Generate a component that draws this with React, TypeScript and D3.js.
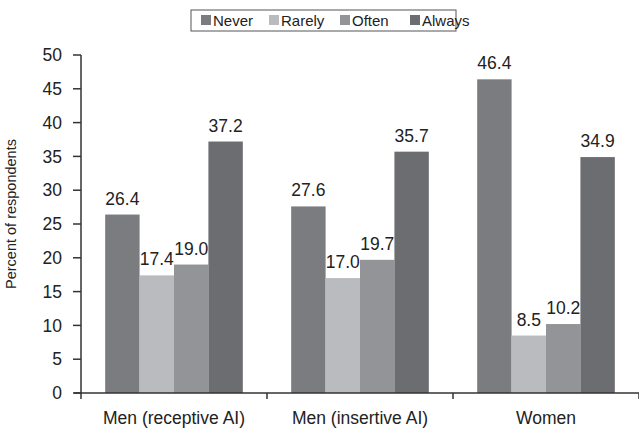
import React from "react";
import * as d3 from "d3";

const categories = ["Men (receptive AI)", "Men (insertive AI)", "Women"];
const seriesNames = ["Never", "Rarely", "Often", "Always"];
const neverValues = [26.4, 27.6, 46.4];
const rarelyValues = [17.4, 17.0, 8.5];
const oftenValues = [19.0, 19.7, 10.2];
const alwaysValues = [37.2, 35.7, 34.9];
const yTicks = [0, 5, 10, 15, 20, 25, 30, 35, 40, 45, 50];
const colors = ["#7b7c80", "#babbbf", "#939498", "#6c6d71"];

const W = 639;
const H = 428;
const FONT = "'Liberation Sans', Arial, Helvetica, sans-serif";

export default function App() {
  const seriesValues = [neverValues, rarelyValues, oftenValues, alwaysValues];
  const x = d3.scaleBand<string>().domain(categories).range([81, 639]).padding(0);
  const bw = x.bandwidth();
  const xi = d3
    .scaleBand<string>()
    .domain(seriesNames)
    .range([bw * 0.13, bw * 0.87])
    .padding(0);
  const y = d3.scaleLinear().domain([0, 50]).range([393, 55]);
  const boundaries = [...categories.map((c) => x(c) as number), 639];

  const legendItems = [
    { name: "Never", sq: 201 },
    { name: "Rarely", sq: 269 },
    { name: "Often", sq: 340 },
    { name: "Always", sq: 410 },
  ];

  return (
    <svg
      width={W}
      height={H}
      style={{ position: "absolute", left: 0, top: 0, background: "#fff" }}
      fontFamily={FONT}
    >
      <rect x={0} y={0} width={W} height={H} fill="#fff" />
      {/* Legend */}
      <rect x={191} y={10} width={265} height={21} fill="#fff" stroke="#555" strokeWidth={1} />
      {legendItems.map((it, i) => (
        <g key={it.name}>
          <rect x={it.sq} y={15} width={10} height={10} fill={colors[i]} />
          <text x={it.sq + 12} y={26} fontSize={15} fill="#222">
            {it.name}
          </text>
        </g>
      ))}

      {/* Bars */}
      {categories.map((c, ci) => (
        <g key={c} transform={`translate(${x(c)},0)`}>
          {seriesNames.map((s, si) => {
            const v = seriesValues[si][ci];
            const bx = xi(s) as number;
            return (
              <g key={s}>
                <rect
                  x={bx}
                  y={y(v)}
                  width={xi.bandwidth()}
                  height={y(0) - y(v)}
                  fill={colors[si]}
                />
                <text
                  x={bx + xi.bandwidth() / 2}
                  y={y(v) - 10}
                  textAnchor="middle"
                  fontSize={17.5}
                  fill="#222"
                >
                  {v.toFixed(1)}
                </text>
              </g>
            );
          })}
        </g>
      ))}

      {/* Y axis */}
      <line x1={81} x2={81} y1={y(0)} y2={y(50)} stroke="#333" strokeWidth={1.5} />
      {yTicks.map((t) => (
        <g key={t}>
          <line x1={73} x2={81} y1={y(t)} y2={y(t)} stroke="#333" strokeWidth={1.5} />
          <text x={62} y={y(t)} dy="0.35em" textAnchor="end" fontSize={17.5} fill="#222">
            {t}
          </text>
        </g>
      ))}
      <text
        transform={`translate(16,214) rotate(-90)`}
        textAnchor="middle"
        fontSize={14.5}
        fill="#222"
      >
        Percent of respondents
      </text>

      {/* X axis */}
      <line x1={74} x2={639} y1={y(0)} y2={y(0)} stroke="#333" strokeWidth={1.5} />
      {boundaries.map((b, i) => (
        <line key={i} x1={b} x2={b} y1={y(0)} y2={y(0) + 6} stroke="#333" strokeWidth={1.5} />
      ))}
      {categories.map((c) => (
        <text
          key={c}
          x={(x(c) as number) + bw / 2}
          y={424}
          textAnchor="middle"
          fontSize={17.5}
          fill="#222"
        >
          {c}
        </text>
      ))}
    </svg>
  );
}
